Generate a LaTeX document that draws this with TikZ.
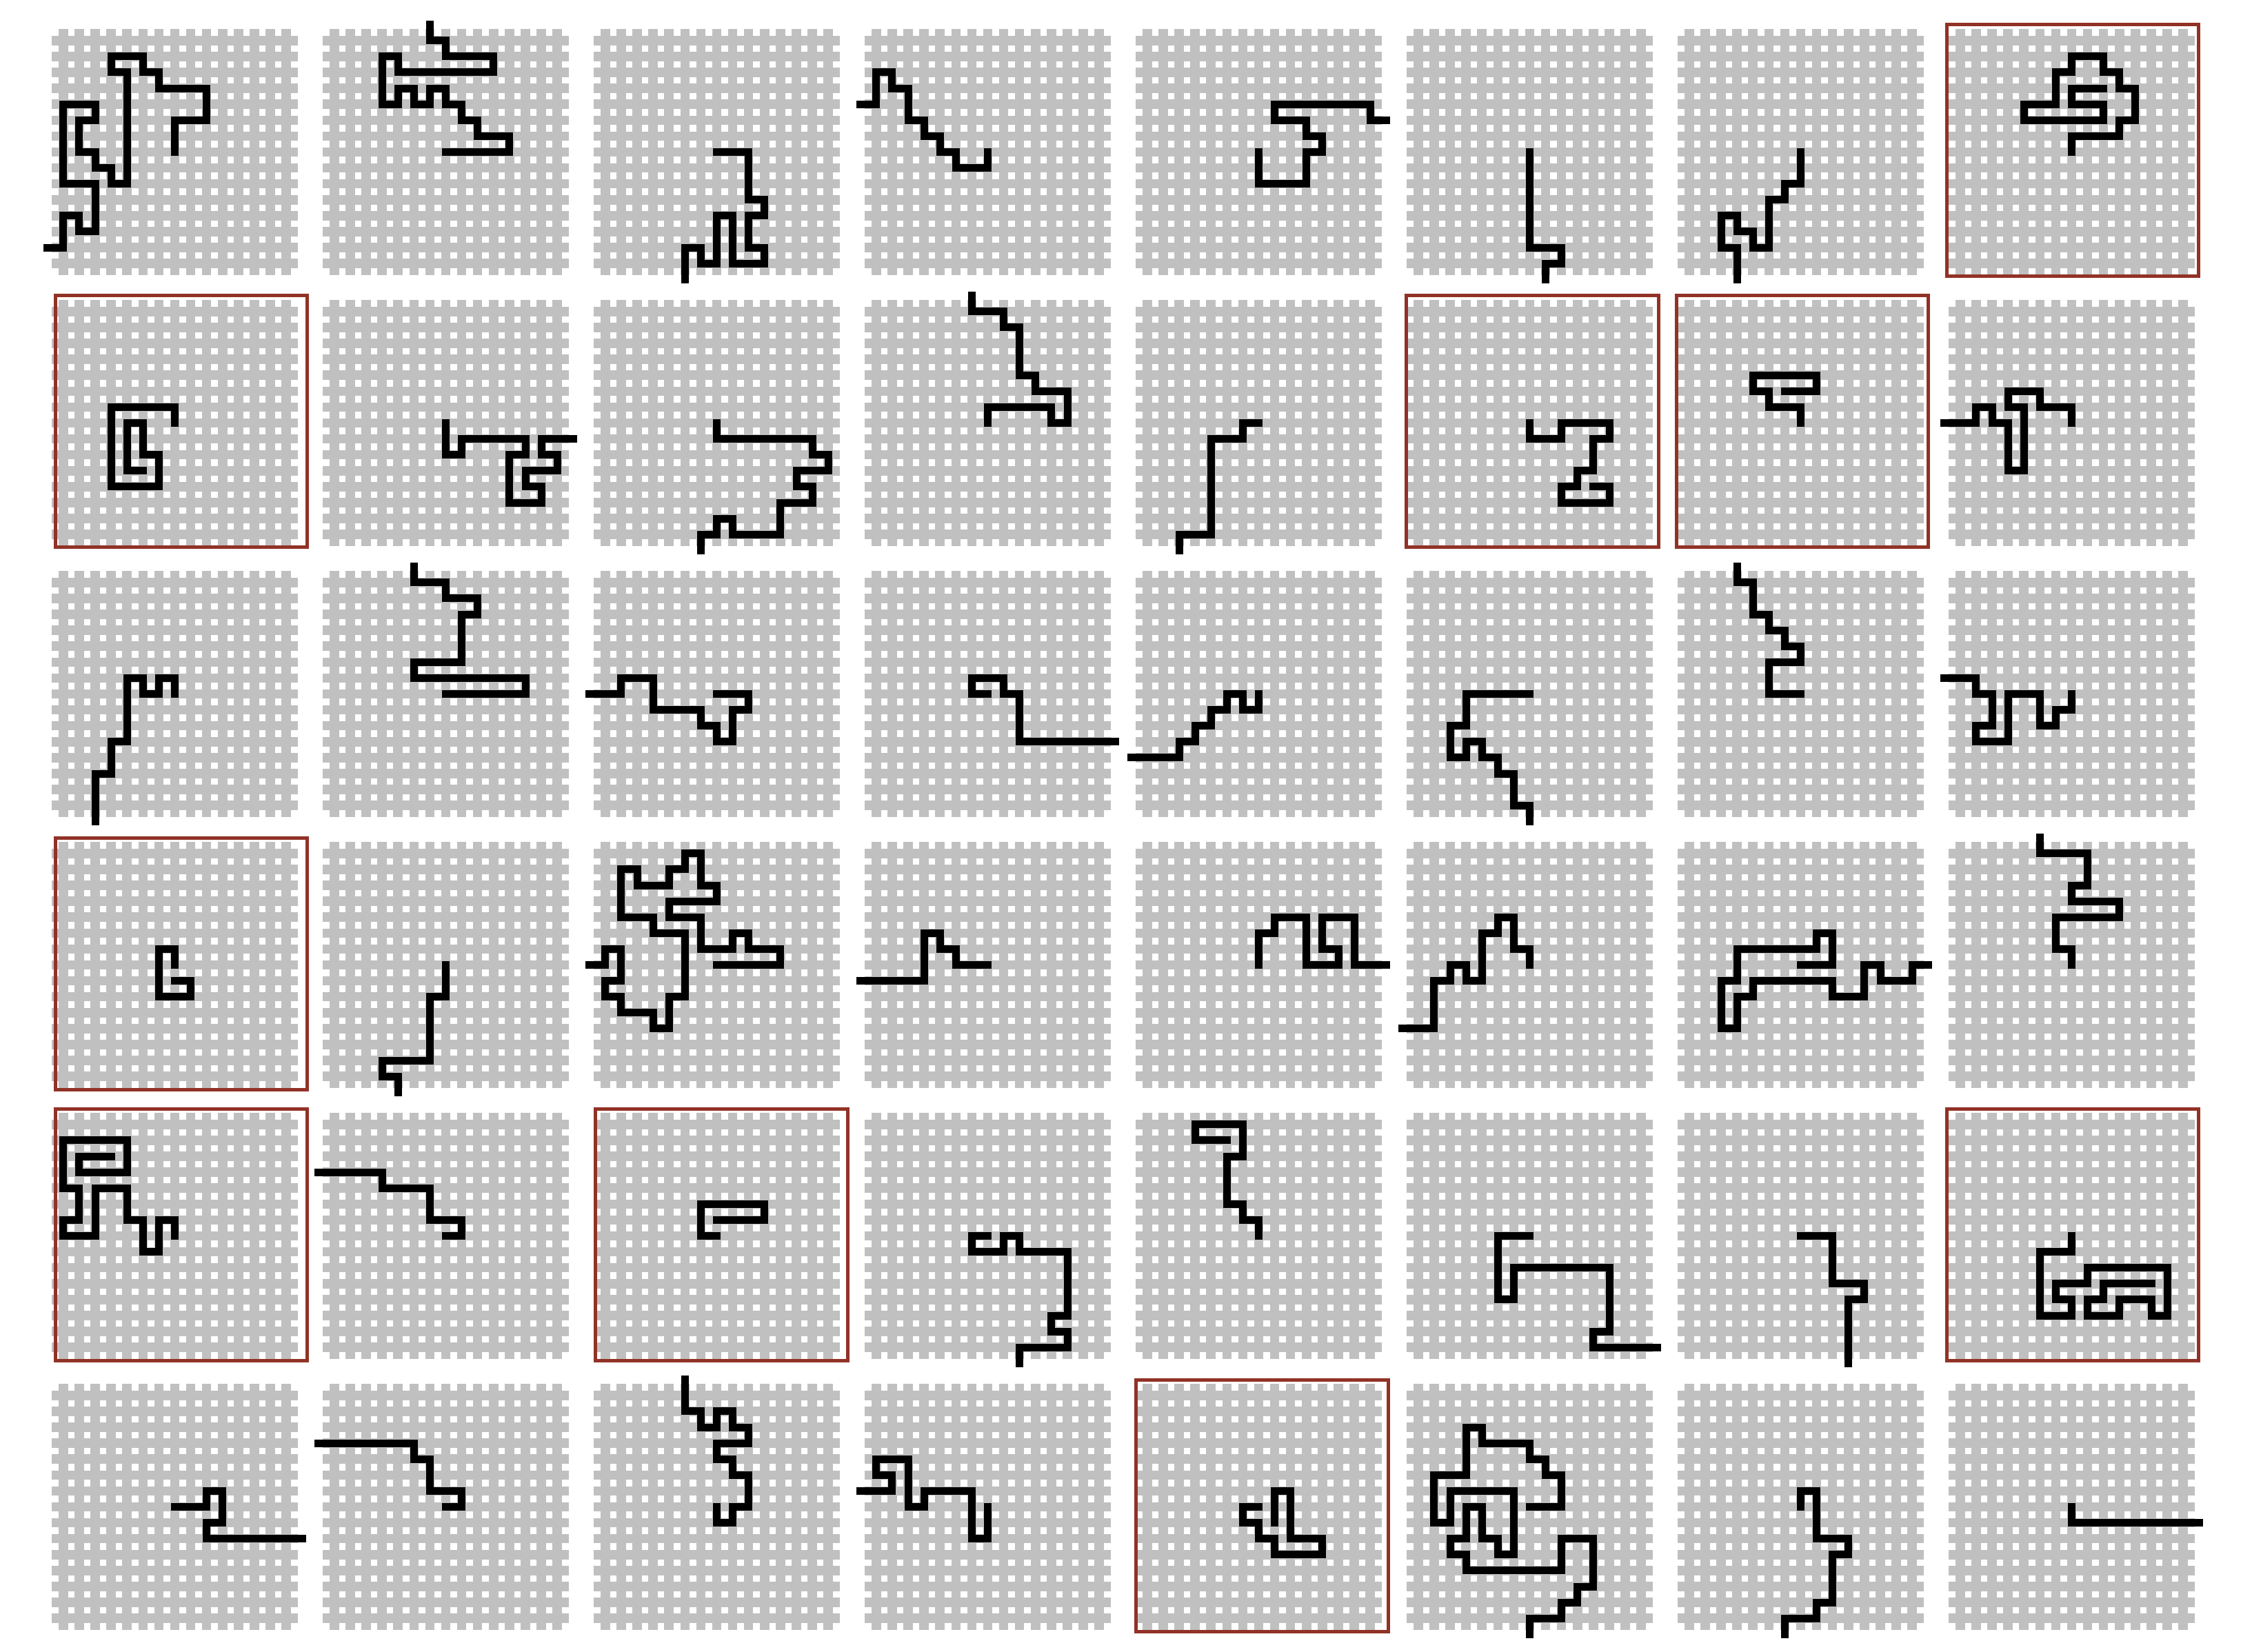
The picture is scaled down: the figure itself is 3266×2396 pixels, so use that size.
\documentclass[tikz,border=0pt]{standalone}
\definecolor{gridgray}{RGB}{192,192,192}
\definecolor{framered}{RGB}{145,50,38}
\tikzset{
  gridline/.style={draw=gridgray, line width=2.7pt, line cap=butt},
  walkline/.style={draw=black, line width=2.2pt, line cap=rect, line join=miter},
  frameline/.style={draw=framered, line width=1pt}
}
\newcommand{\walkpanel}[3]{%
  \begin{scope}[shift={({91.8+393*#1},{58.8+393*#2})}, x=4.62pt, y=-4.62pt]
    \foreach \k in {0,...,14} {
      \draw[gridline] (-0.727,\k) -- (14.727,\k);
      \draw[gridline] (\k,-0.727) -- (\k,14.727);
    }
    \draw[walkline] #3;
  \end{scope}}
\newcommand{\redframe}[2]{\draw[frameline] ({80+391.9*#1},{35.5+393.2*#2}) rectangle ++(365.5,365);}
\begin{document}
\begin{tikzpicture}[x=0.2pt,y=-0.2pt]
\path[use as bounding box] (0,0) rectangle (3266,2396);
% row 0
\walkpanel{0}{0}{(-1,13)--(0,13)--(0,11)--(1,11)--(1,12)--(2,12)--(2,9)--(0,9)--(0,4)--(2,4)--(2,5)--(1,5)--(1,7)--(2,7)--(2,8)--(3,8)--(3,9)--(4,9)--(4,2)--(3,2)--(3,1)--(5,1)--(5,2)--(6,2)--(6,3)--(9,3)--(9,5)--(7,5)--(7,7)}
\walkpanel{1}{0}{(6,-1)--(6,0)--(7,0)--(7,1)--(10,1)--(10,2)--(4,2)--(4,1)--(3,1)--(3,4)--(4,4)--(4,3)--(5,3)--(5,4)--(6,4)--(6,3)--(7,3)--(7,4)--(8,4)--(8,5)--(9,5)--(9,6)--(11,6)--(11,7)--(7,7)}
\walkpanel{2}{0}{(7,7)--(9,7)--(9,10)--(10,10)--(10,11)--(9,11)--(9,13)--(10,13)--(10,14)--(8,14)--(8,11)--(7,11)--(7,14)--(6,14)--(6,13)--(5,13)--(5,15)}
\walkpanel{3}{0}{(-1,4)--(0,4)--(0,2)--(1,2)--(1,3)--(2,3)--(2,5)--(3,5)--(3,6)--(4,6)--(4,7)--(5,7)--(5,8)--(7,8)--(7,7)}
\walkpanel{4}{0}{(7,7)--(7,9)--(10,9)--(10,7)--(11,7)--(11,6)--(10,6)--(10,5)--(8,5)--(8,4)--(14,4)--(14,5)--(15,5)}
\walkpanel{5}{0}{(7,7)--(7,13)--(9,13)--(9,14)--(8,14)--(8,15)}
\walkpanel{6}{0}{(7,7)--(7,9)--(6,9)--(6,10)--(5,10)--(5,13)--(4,13)--(4,12)--(3,12)--(3,11)--(2,11)--(2,13)--(3,13)--(3,15)}
\walkpanel{7}{0}{(7,7)--(7,6)--(10,6)--(10,5)--(11,5)--(11,3)--(10,3)--(10,2)--(9,2)--(9,1)--(7,1)--(7,2)--(6,2)--(6,4)--(4,4)--(4,5)--(9,5)--(9,4)--(7,4)--(7,3)--(9,3)}
% row 1
\walkpanel{0}{1}{(7,7)--(7,6)--(3,6)--(3,11)--(6,11)--(6,9)--(5,9)--(5,7)--(4,7)--(4,10)--(5,10)}
\walkpanel{1}{1}{(7,7)--(7,9)--(8,9)--(8,8)--(12,8)--(12,9)--(11,9)--(11,12)--(13,12)--(13,11)--(12,11)--(12,10)--(14,10)--(14,9)--(13,9)--(13,8)--(15,8)}
\walkpanel{2}{1}{(7,7)--(7,8)--(13,8)--(13,9)--(14,9)--(14,10)--(12,10)--(12,11)--(13,11)--(13,12)--(11,12)--(11,14)--(8,14)--(8,13)--(7,13)--(7,14)--(6,14)--(6,15)}
\walkpanel{3}{1}{(6,-1)--(6,0)--(8,0)--(8,1)--(9,1)--(9,4)--(10,4)--(10,5)--(12,5)--(12,7)--(11,7)--(11,6)--(7,6)--(7,7)}
\walkpanel{4}{1}{(7,7)--(6,7)--(6,8)--(4,8)--(4,14)--(2,14)--(2,15)}
\walkpanel{5}{1}{(7,7)--(7,8)--(9,8)--(9,7)--(12,7)--(12,8)--(11,8)--(11,10)--(10,10)--(10,11)--(9,11)--(9,12)--(12,12)--(12,11)--(11,11)}
\walkpanel{6}{1}{(7,7)--(7,6)--(5,6)--(5,5)--(4,5)--(4,4)--(8,4)--(8,5)--(6,5)}
\walkpanel{7}{1}{(-1,7)--(1,7)--(1,6)--(2,6)--(2,7)--(3,7)--(3,10)--(4,10)--(4,6)--(3,6)--(3,5)--(5,5)--(5,6)--(7,6)--(7,7)}
% row 2
\walkpanel{0}{2}{(7,7)--(7,6)--(6,6)--(6,7)--(5,7)--(5,6)--(4,6)--(4,10)--(3,10)--(3,12)--(2,12)--(2,15)}
\walkpanel{1}{2}{(5,-1)--(5,0)--(7,0)--(7,1)--(9,1)--(9,2)--(8,2)--(8,5)--(5,5)--(5,6)--(12,6)--(12,7)--(7,7)}
\walkpanel{2}{2}{(-1,7)--(1,7)--(1,6)--(3,6)--(3,8)--(6,8)--(6,9)--(7,9)--(7,10)--(8,10)--(8,8)--(9,8)--(9,7)--(7,7)}
\walkpanel{3}{2}{(7,7)--(6,7)--(6,6)--(8,6)--(8,7)--(9,7)--(9,10)--(15,10)}
\walkpanel{4}{2}{(-1,11)--(2,11)--(2,10)--(3,10)--(3,9)--(4,9)--(4,8)--(5,8)--(5,7)--(6,7)--(6,8)--(7,8)--(7,7)}
\walkpanel{5}{2}{(7,7)--(3,7)--(3,9)--(2,9)--(2,11)--(3,11)--(3,10)--(4,10)--(4,11)--(5,11)--(5,12)--(6,12)--(6,14)--(7,14)--(7,15)}
\walkpanel{6}{2}{(3,-1)--(3,0)--(4,0)--(4,2)--(5,2)--(5,3)--(6,3)--(6,4)--(7,4)--(7,5)--(5,5)--(5,7)--(7,7)}
\walkpanel{7}{2}{(-1,6)--(1,6)--(1,7)--(2,7)--(2,9)--(1,9)--(1,10)--(3,10)--(3,7)--(5,7)--(5,9)--(6,9)--(6,8)--(7,8)--(7,7)}
% row 3
\walkpanel{0}{3}{(7,7)--(7,6)--(6,6)--(6,9)--(8,9)--(8,8)--(7,8)}
\walkpanel{1}{3}{(7,7)--(7,9)--(6,9)--(6,13)--(3,13)--(3,14)--(4,14)--(4,15)}
\walkpanel{2}{3}{(-1,7)--(0,7)--(0,6)--(1,6)--(1,8)--(0,8)--(0,9)--(1,9)--(1,10)--(3,10)--(3,11)--(4,11)--(4,9)--(5,9)--(5,5)--(3,5)--(3,4)--(1,4)--(1,1)--(2,1)--(2,2)--(4,2)--(4,1)--(5,1)--(5,0)--(6,0)--(6,2)--(7,2)--(7,3)--(4,3)--(4,4)--(6,4)--(6,6)--(8,6)--(8,5)--(9,5)--(9,6)--(11,6)--(11,7)--(7,7)}
\walkpanel{3}{3}{(-1,8)--(3,8)--(3,5)--(4,5)--(4,6)--(5,6)--(5,7)--(7,7)}
\walkpanel{4}{3}{(7,7)--(7,5)--(8,5)--(8,4)--(10,4)--(10,7)--(12,7)--(12,6)--(11,6)--(11,4)--(13,4)--(13,7)--(15,7)}
\walkpanel{5}{3}{(-1,11)--(1,11)--(1,8)--(2,8)--(2,7)--(3,7)--(3,8)--(4,8)--(4,5)--(5,5)--(5,4)--(6,4)--(6,6)--(7,6)--(7,7)}
\walkpanel{6}{3}{(7,7)--(9,7)--(9,5)--(8,5)--(8,6)--(3,6)--(3,8)--(2,8)--(2,11)--(3,11)--(3,9)--(4,9)--(4,8)--(9,8)--(9,9)--(11,9)--(11,7)--(12,7)--(12,8)--(14,8)--(14,7)--(15,7)}
\walkpanel{7}{3}{(5,-1)--(5,0)--(8,0)--(8,2)--(7,2)--(7,3)--(10,3)--(10,4)--(6,4)--(6,6)--(7,6)--(7,7)}
% row 4
\walkpanel{0}{4}{(7,7)--(7,6)--(6,6)--(6,8)--(5,8)--(5,6)--(4,6)--(4,4)--(2,4)--(2,7)--(0,7)--(0,6)--(1,6)--(1,4)--(0,4)--(0,1)--(4,1)--(4,3)--(1,3)--(1,2)--(3,2)}
\walkpanel{1}{4}{(-1,3)--(3,3)--(3,4)--(6,4)--(6,6)--(8,6)--(8,7)--(7,7)}
\walkpanel{2}{4}{(7,7)--(6,7)--(6,5)--(10,5)--(10,6)--(7,6)}
\walkpanel{3}{4}{(7,7)--(6,7)--(6,8)--(8,8)--(8,7)--(9,7)--(9,8)--(12,8)--(12,12)--(11,12)--(11,13)--(12,13)--(12,14)--(9,14)--(9,15)}
\walkpanel{4}{4}{(7,7)--(7,6)--(6,6)--(6,5)--(5,5)--(5,2)--(6,2)--(6,0)--(3,0)--(3,1)--(5,1)}
\walkpanel{5}{4}{(7,7)--(5,7)--(5,11)--(6,11)--(6,9)--(12,9)--(12,13)--(11,13)--(11,14)--(15,14)}
\walkpanel{6}{4}{(7,7)--(9,7)--(9,10)--(11,10)--(11,11)--(10,11)--(10,15)}
\walkpanel{7}{4}{(7,7)--(7,8)--(5,8)--(5,12)--(7,12)--(7,11)--(6,11)--(6,10)--(8,10)--(8,9)--(13,9)--(13,12)--(12,12)--(12,11)--(10,11)--(10,12)--(8,12)--(8,11)--(9,11)--(9,10)--(12,10)}
% row 5
\walkpanel{0}{5}{(7,7)--(9,7)--(9,6)--(10,6)--(10,8)--(9,8)--(9,9)--(15,9)}
\walkpanel{1}{5}{(-1,3)--(5,3)--(5,4)--(6,4)--(6,6)--(8,6)--(8,7)--(7,7)}
\walkpanel{2}{5}{(5,-1)--(5,1)--(6,1)--(6,2)--(7,2)--(7,1)--(8,1)--(8,2)--(9,2)--(9,3)--(7,3)--(7,4)--(8,4)--(8,5)--(9,5)--(9,7)--(8,7)--(8,8)--(7,8)--(7,7)}
\walkpanel{3}{5}{(-1,6)--(1,6)--(1,5)--(0,5)--(0,4)--(2,4)--(2,7)--(3,7)--(3,6)--(6,6)--(6,9)--(7,9)--(7,7)}
\walkpanel{4}{5}{(7,7)--(6,7)--(6,8)--(7,8)--(7,9)--(8,9)--(8,10)--(11,10)--(11,9)--(9,9)--(9,6)--(8,6)--(8,8)}
\walkpanel{5}{5}{(7,7)--(9,7)--(9,5)--(8,5)--(8,4)--(7,4)--(7,3)--(4,3)--(4,2)--(3,2)--(3,5)--(1,5)--(1,8)--(2,8)--(2,6)--(6,6)--(6,10)--(5,10)--(5,9)--(4,9)--(4,7)--(3,7)--(3,9)--(2,9)--(2,10)--(3,10)--(3,11)--(9,11)--(9,9)--(11,9)--(11,12)--(10,12)--(10,13)--(9,13)--(9,14)--(7,14)--(7,15)}
\walkpanel{6}{5}{(7,7)--(7,6)--(8,6)--(8,9)--(10,9)--(10,10)--(9,10)--(9,13)--(8,13)--(8,14)--(6,14)--(6,15)}
\walkpanel{7}{5}{(7,7)--(7,8)--(15,8)}
% frames
\redframe{7}{0}
\redframe{0}{1}
\redframe{5}{1}
\redframe{6}{1}
\redframe{0}{3}
\redframe{0}{4}
\redframe{2}{4}
\redframe{7}{4}
\redframe{4}{5}
\end{tikzpicture}
\end{document}
